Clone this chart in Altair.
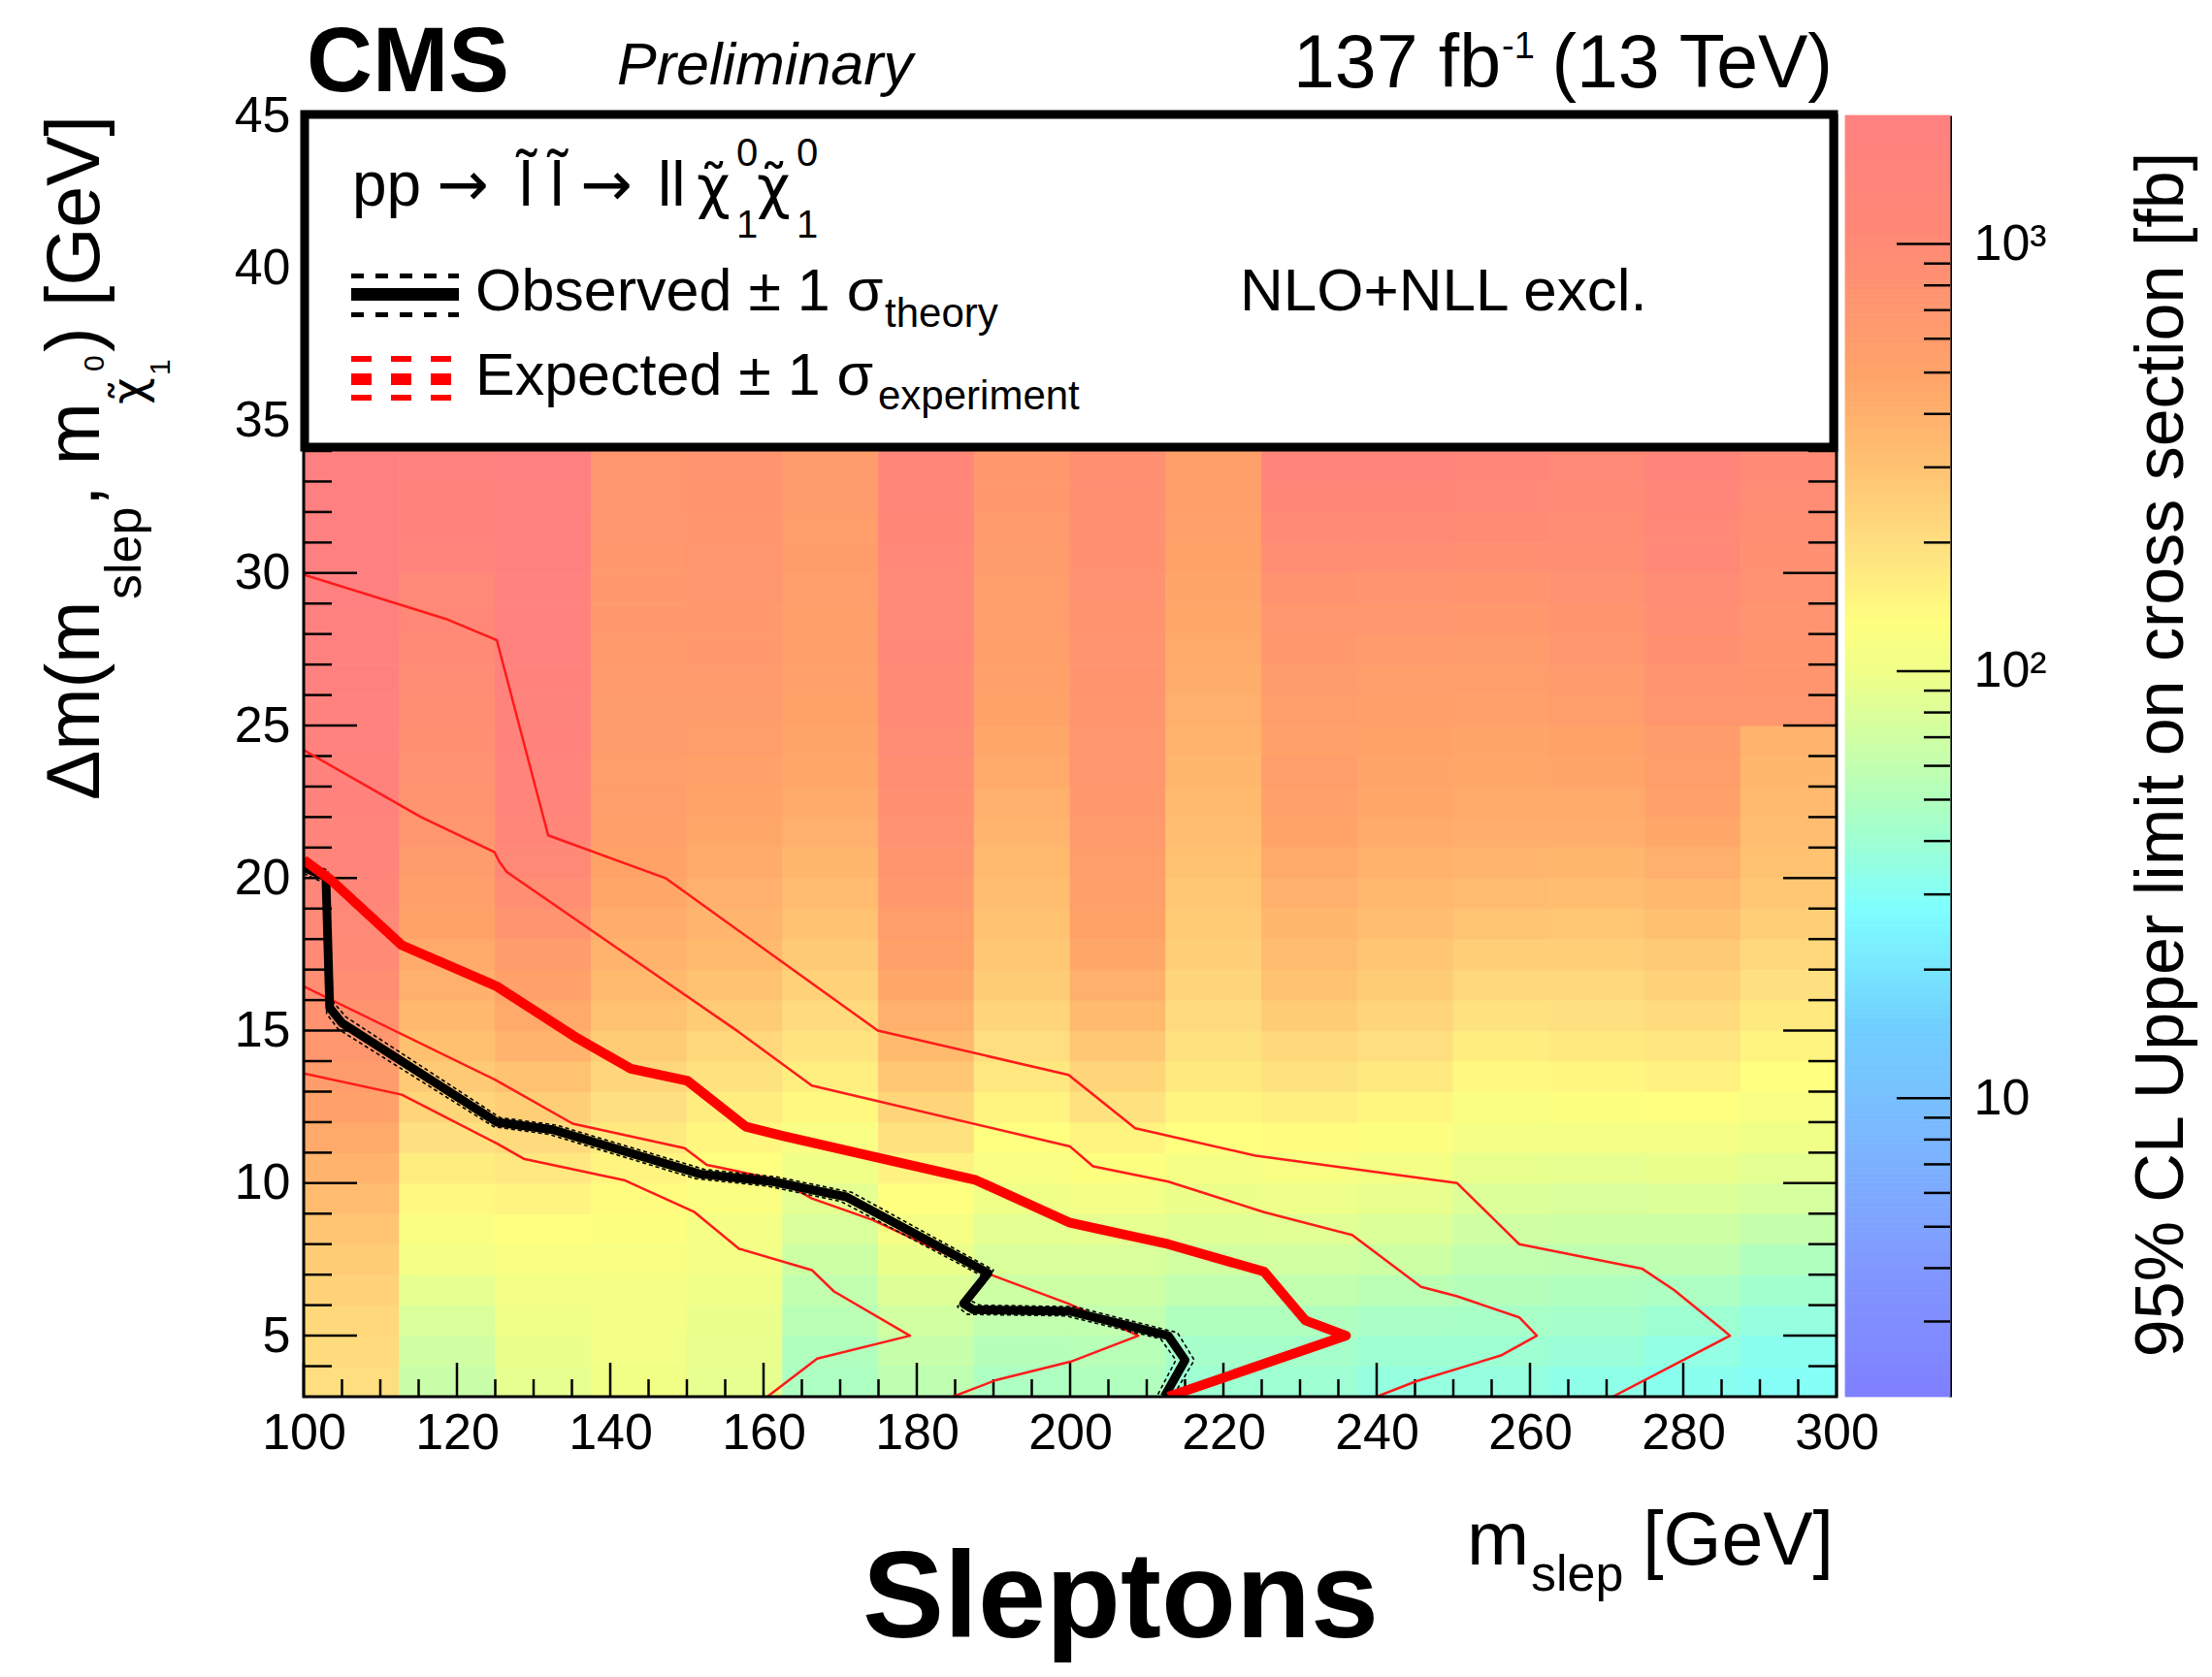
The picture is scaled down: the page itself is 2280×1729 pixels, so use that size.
import altair as alt
import pandas as pd
import numpy as np

FONT = "Liberation Sans"

# ---------------- data ----------------
# heat-map columns (edges, GeV) and rows (1 GeV from 3 to 34)
col_edges = [100, 112.5, 125, 137.5, 150, 162.5, 175, 187.5, 200,
             212.5, 225, 237.5, 250, 262.5, 275, 287.5, 300]
row_edges = list(range(3, 35))

# 95% CL upper limit [fb] per column, bottom (dm=3) to top (dm=34)
lim_100 = [200, 210, 220, 240, 260, 290, 330, 380, 450, 520, 600, 680, 780, 880, 1000, 1100,
           1250, 1400, 1500, 1600, 1700, 1750, 1800, 1850, 1900, 1900, 1950, 1950, 2000, 2000, 2000]
lim_112 = [65, 70, 78, 90, 105, 120, 140, 165, 195, 230, 270, 310, 350, 400, 450, 500,
           550, 600, 680, 750, 800, 850, 900, 950, 1000, 1050, 1100, 1500, 1600, 1700, 1800]
lim_125 = [90, 95, 100, 108, 118, 130, 150, 175, 210, 250, 300, 380, 450, 520, 600, 750,
           900, 1100, 1300, 1450, 1550, 1600, 1650, 1700, 1750, 1800, 1800, 1850, 1900, 1900, 1950]
lim_137 = [102, 105, 108, 112, 118, 125, 135, 150, 170, 195, 225, 260, 300, 340, 380, 420,
           460, 500, 540, 560, 580, 590, 600, 620, 630, 640, 650, 660, 680, 700, 700]
lim_150 = [90, 92, 95, 100, 105, 112, 120, 130, 145, 165, 190, 220, 260, 300, 340, 370,
           400, 430, 460, 490, 520, 560, 600, 620, 640, 660, 680, 700, 720, 740, 750]
lim_162 = [48, 50, 55, 60, 68, 78, 88, 100, 115, 140, 160, 185, 210, 240, 270, 300,
           330, 360, 400, 430, 460, 480, 500, 520, 540, 550, 560, 570, 580, 590, 600]
lim_175 = [58, 64, 72, 82, 95, 110, 130, 155, 190, 230, 280, 340, 400, 460, 520, 580,
           650, 720, 800, 850, 900, 950, 1000, 1000, 1050, 1100, 1100, 1150, 1200, 1250, 1300]
lim_187 = [48, 52, 60, 68, 78, 88, 100, 115, 130, 150, 175, 200, 230, 260, 280, 300,
           320, 340, 370, 400, 440, 470, 500, 520, 540, 560, 580, 600, 620, 640, 650]
lim_200 = [50, 54, 60, 68, 78, 90, 105, 125, 150, 190, 230, 280, 340, 400, 460, 500,
           540, 580, 620, 650, 680, 700, 720, 740, 760, 780, 800, 820, 830, 850, 850]
lim_212 = [40, 44, 50, 60, 72, 84, 96, 112, 130, 150, 170, 190, 210, 230, 250, 265,
           280, 300, 320, 340, 360, 380, 400, 420, 440, 460, 480, 500, 520, 540, 550]
lim_225 = [40, 44, 50, 60, 72, 85, 98, 115, 135, 160, 190, 220, 260, 300, 330, 360,
           400, 440, 490, 520, 560, 520, 560, 600, 650, 700, 780, 880, 1000, 1200, 1400]
lim_237 = [36, 40, 46, 56, 68, 80, 92, 108, 125, 145, 170, 200, 230, 260, 290, 320,
           350, 390, 430, 460, 480, 500, 540, 580, 620, 680, 760, 860, 1000, 1200, 1400]
lim_250 = [36, 40, 45, 52, 60, 70, 80, 92, 105, 120, 140, 165, 190, 220, 250, 290,
           330, 370, 410, 440, 460, 480, 520, 560, 600, 660, 740, 850, 980, 1150, 1300]
lim_262 = [34, 38, 44, 50, 58, 68, 78, 90, 105, 125, 145, 170, 195, 220, 250, 280,
           320, 360, 410, 450, 480, 500, 560, 620, 680, 740, 800, 860, 920, 1000, 1100]
lim_275 = [32, 35, 40, 48, 58, 68, 80, 95, 110, 130, 155, 180, 210, 240, 270, 310,
           350, 400, 460, 520, 560, 600, 700, 760, 820, 880, 950, 1050, 1150, 1300, 1450]
lim_287 = [30, 32, 36, 42, 50, 62, 75, 88, 100, 115, 130, 150, 170, 195, 220, 250,
           280, 300, 320, 340, 360, 380, 700, 720, 740, 760, 800, 850, 900, 950, 1000]
limit_columns = [lim_100, lim_112, lim_125, lim_137, lim_150, lim_162, lim_175, lim_187,
                 lim_200, lim_212, lim_225, lim_237, lim_250, lim_262, lim_275, lim_287]

# contours (m_slep, delta m)
obs_x = [100.0, 102.9, 103.4, 105.0, 125.2, 132.5, 151.7, 161.2, 170.8, 189.3, 186.1, 187.4, 200.0, 212.8, 215.0, 212.3]
obs_y = [20.35, 20.05, 15.75, 15.25, 12.0, 11.75, 10.3, 10.05, 9.55, 7.05, 6.05, 5.85, 5.8, 5.0, 4.2, 3.0]
obs_up_x = [100.0, 103.2, 103.8, 105.5, 125.6, 133.0, 152.3, 161.8, 171.5, 190.0, 187.0, 188.2, 200.6, 214.0, 216.2, 213.4]
obs_up_y = [20.55, 20.25, 15.95, 15.45, 12.15, 11.9, 10.45, 10.2, 9.7, 7.15, 6.15, 6.0, 5.95, 5.1, 4.2, 3.0]
obs_dn_x = [100.0, 102.6, 103.0, 104.5, 124.8, 132.0, 151.1, 160.6, 170.1, 188.6, 185.3, 186.6, 199.4, 211.8, 213.8, 211.3]
obs_dn_y = [20.15, 19.85, 15.55, 15.05, 11.85, 11.6, 10.15, 9.9, 9.4, 6.95, 5.95, 5.7, 5.65, 4.9, 4.2, 3.0]

exp_x = [100.0, 103.5, 112.8, 125.2, 135.7, 142.7, 150.1, 157.7, 162.5, 187.7, 200.0, 212.8, 225.3, 230.7, 236.0, 212.8]
exp_y = [20.6, 19.95, 17.8, 16.45, 14.75, 13.75, 13.35, 11.85, 11.55, 10.1, 8.7, 8.0, 7.1, 5.5, 5.0, 3.0]

exp_p2_x = [100.0, 118.5, 125.2, 131.9, 147.2, 174.9, 199.8, 208.5, 224.2, 250.5, 258.6, 274.6, 278.8, 286.1, 270.8]
exp_p2_y = [29.95, 28.5, 27.8, 21.4, 20.0, 15.0, 13.55, 11.8, 10.9, 10.0, 8.0, 7.2, 6.5, 5.0, 3.0]
exp_p1_x = [100.0, 115.3, 124.9, 125.5, 126.5, 156.8, 166.3, 200.0, 203.0, 212.8, 225.3, 236.8, 245.8, 250.4, 258.6, 260.9, 256.2, 245.1, 240.0]
exp_p1_y = [24.2, 22.0, 20.85, 20.55, 20.2, 14.95, 13.2, 11.2, 10.55, 10.05, 9.05, 8.3, 6.6, 6.3, 5.6, 5.0, 4.35, 3.5, 3.0]
exp_m1_x = [100.0, 124.9, 135.1, 149.7, 152.6, 162.1, 166.3, 174.2, 189.6, 199.8, 208.9, 200.1, 190.4, 184.7]
exp_m1_y = [16.45, 13.4, 11.95, 11.15, 10.6, 10.1, 9.5, 8.8, 7.0, 6.05, 5.0, 4.15, 3.55, 3.0]
exp_m2_x = [100.0, 112.8, 125.2, 128.7, 141.8, 151.0, 156.8, 166.3, 169.2, 179.1, 167.0, 160.5]
exp_m2_y = [13.6, 12.9, 11.3, 10.8, 10.1, 9.05, 7.85, 7.15, 6.45, 5.0, 4.25, 3.0]

# axis tick labels
x_tick_labels = [100, 120, 140, 160, 180, 200, 220, 240, 260, 280, 300]
y_tick_labels = [5, 10, 15, 20, 25, 30, 35, 40, 45]
cb_tick_labels = [10, 100, 1000]

# colour palette of the z axis (value -> colour)
cb_domain = [2, 4, 10, 15, 28, 41, 59, 100, 130, 195, 310, 500, 1000, 2000]
cb_colors = ["#8080ff", "#8098ff", "#78c0ff", "#70d0ff", "#80ffff", "#a0ffd0", "#c0ffb0",
             "#f0ff88", "#ffff80", "#ffe080", "#ffc070", "#ffa268", "#ff8a75", "#ff8080"]

# ---------------- tables ----------------
heat_rows = []
for ci, vals in enumerate(limit_columns):
    for ri, v in enumerate(vals):
        heat_rows.append(dict(x0=col_edges[ci], x1=col_edges[ci + 1],
                              y0=row_edges[ri], y1=row_edges[ri + 1], v=v))
heat_df = pd.DataFrame(heat_rows)


def curve_df(name, xs, ys):
    return pd.DataFrame({"curve": name, "i": list(range(len(xs))), "x": xs, "y": ys})


thin_red_df = pd.concat([curve_df("p2", exp_p2_x, exp_p2_y), curve_df("p1", exp_p1_x, exp_p1_y),
                         curve_df("m1", exp_m1_x, exp_m1_y), curve_df("m2", exp_m2_x, exp_m2_y)])
obs_band_df = pd.concat([curve_df("up", obs_up_x, obs_up_y), curve_df("dn", obs_dn_x, obs_dn_y)])
obs_df = curve_df("obs", obs_x, obs_y)
exp_df = curve_df("exp", exp_x, exp_y)

x_minor = [v for v in range(105, 300, 5) if v not in x_tick_labels]
y_minor = [v for v in range(4, 45) if v not in y_tick_labels]
cb_minor = [m * d for d in (1, 10, 100) for m in range(2, 10) if 2 < m * d < 2000 and m * d not in cb_tick_labels]

cb_edges = np.logspace(np.log10(2), np.log10(2000), 265)
cb_df = pd.DataFrame({"lo": cb_edges[:-1], "hi": cb_edges[1:],
                      "v": np.sqrt(cb_edges[:-1] * cb_edges[1:])})

one = pd.DataFrame({"k": [0]})

# ---------------- scales / axes ----------------
W, H = 1580, 1321
XS = alt.Scale(domain=[100, 300], nice=False, zero=False)
YS = alt.Scale(domain=[3, 45], nice=False, zero=False)
CS = alt.Scale(type="log", domain=cb_domain, range=cb_colors, interpolate="rgb", clamp=True)
CBS = alt.Scale(type="log", domain=[2, 2000], nice=False)

XAX = alt.Axis(values=x_tick_labels, title=None, ticks=False, tickSize=0, domain=False, grid=False,
               labelFontSize=52, labelFont=FONT, labelColor="black", labelPadding=12,
               labelFlush=False, labelOverlap=False)
YAX = alt.Axis(values=y_tick_labels, title=None, ticks=False, tickSize=0, domain=False, grid=False,
               labelFontSize=52, labelFont=FONT, labelColor="black", labelPadding=14,
               labelFlush=False, labelOverlap=False)
CBAX = alt.Axis(orient="right", offset=117, values=cb_tick_labels, title=None, ticks=False, tickSize=0,
                domain=True, domainColor="black", domainWidth=3, grid=False,
                labelFontSize=52, labelFont=FONT, labelColor="black", labelPadding=24,
                labelFlush=False, labelOverlap=False,
                labelExpr="datum.value == 1000 ? '10\u00b3' : datum.value == 100 ? '10\u00b2' : '10'")


def text_layer(s, x, y, size, align="left", angle=0, weight="normal", style="normal", font=FONT):
    props = dict(text=s, fontSize=size, font=font, align=align, baseline="alphabetic",
                 color="black", fontWeight=weight, fontStyle=style)
    if angle:
        props["angle"] = angle
    return alt.Chart(one).mark_text(**props).encode(x=alt.value(x), y=alt.value(y))


def hrule(x1, x2, y, width, color, dash=None):
    props = dict(color=color, strokeWidth=width)
    if dash:
        props["strokeDash"] = dash
    return alt.Chart(one).mark_rule(**props).encode(x=alt.value(x1), x2=alt.value(x2), y=alt.value(y))


# ---------------- main panel ----------------
heat = alt.Chart(heat_df).mark_rect(strokeWidth=0.8).encode(
    x=alt.X("x0:Q", scale=XS, axis=XAX), x2="x1:Q",
    y=alt.Y("y0:Q", scale=YS, axis=YAX), y2="y1:Q",
    color=alt.Color("v:Q", scale=CS, legend=None),
    stroke=alt.Stroke("v:Q", scale=CS, legend=None),
)


def xticks(vals, length):
    return alt.Chart(pd.DataFrame({"t": vals})).mark_rule(color="black", strokeWidth=2.5).encode(
        x=alt.X("t:Q", scale=XS, axis=XAX), y=alt.value(H), y2=alt.value(H - length))


def yticks(vals, x1, x2):
    return alt.Chart(pd.DataFrame({"t": vals})).mark_rule(color="black", strokeWidth=2.5).encode(
        y=alt.Y("t:Q", scale=YS, axis=YAX), x=alt.value(x1), x2=alt.value(x2))


def curve_layer(df, color, width, dash=None):
    props = dict(color=color, strokeWidth=width, strokeJoin="round", clip=True)
    if dash:
        props["strokeDash"] = dash
    return alt.Chart(df).mark_line(**props).encode(
        x=alt.X("x:Q", scale=XS, axis=XAX), y=alt.Y("y:Q", scale=YS, axis=YAX),
        detail="curve:N", order="i:Q")


frame = alt.Chart(one).mark_rect(fillOpacity=0, stroke="black", strokeWidth=3).encode(
    x=alt.value(0), x2=alt.value(W), y=alt.value(0), y2=alt.value(H))
legend_box = alt.Chart(one).mark_rect(fill="white", stroke="black", strokeWidth=9).encode(
    x=alt.value(1), x2=alt.value(1577), y=alt.value(-1), y2=alt.value(342))

CHI_T = "\u03c7\u0303"  # chi with tilde
L_T = "l\u0303"         # l with tilde
GREEK = "DejaVu Sans"

texts = [
    # header
    text_layer("CMS", 3, -25, 94, weight="bold"),
    text_layer("Preliminary", 323, -32, 61, style="italic"),
    text_layer("137 fb", 1020, -29, 77),
    text_layer("-1", 1235, -59, 38),
    text_layer("(13 TeV)", 1576, -29, 77, align="right"),
    # legend content
    text_layer("pp", 50, 93, 64),
    text_layer("\u2192", 137, 93, 64, font=GREEK),
    text_layer(L_T + " " + L_T, 222, 93, 64),
    text_layer("\u2192", 285, 93, 64, font=GREEK),
    text_layer("ll", 365, 93, 64),
    text_layer(CHI_T, 405, 94, 60, font=GREEK),
    text_layer("0", 446, 52, 40),
    text_layer("1", 446, 126, 40),
    text_layer(CHI_T, 467, 94, 60, font=GREEK),
    text_layer("0", 508, 52, 40),
    text_layer("1", 508, 126, 40),
    text_layer("Observed \u00b1 1 \u03c3", 177, 201, 61),
    text_layer("theory", 599, 218, 42),
    text_layer("Expected \u00b1 1 \u03c3", 177, 288, 61),
    text_layer("experiment", 592, 303, 42),
    text_layer("NLO+NLL excl.", 965, 201, 62),
    # y title (rotated)
    text_layer("\u0394m(m", -211, 706, 77, angle=270),
    text_layer("slep", -168, 499, 52, angle=270),
    text_layer(", m", -211, 403, 77, angle=270),
    text_layer(CHI_T, -164, 298, 48, angle=270, font=GREEK),
    text_layer("0", -206, 264, 30, angle=270),
    text_layer("1", -138, 268, 30, angle=270),
    text_layer(") [GeV]", -211, 244, 77, angle=270),
    # x title
    text_layer("m", 1199, 1494, 77),
    text_layer("slep", 1265, 1521, 52),
    text_layer("[GeV]", 1577, 1494, 77, align="right"),
    # colour-bar title
    text_layer("95% CL Upper limit on cross section [fb]", 1937, 659, 70, align="center", angle=270),
    # slide caption
    text_layer("Sleptons", 842, 1569, 126, align="center", weight="bold"),
]

symbols = [
    hrule(49, 160, 165.5, 5, "black", [13, 12]),
    hrule(49, 160, 184.5, 13, "black"),
    hrule(49, 160, 205.5, 5, "black", [13, 12]),
    hrule(49, 154, 251, 6, "#ff0000", [21, 20]),
    hrule(49, 154, 272, 12, "#ff0000", [21, 20]),
    hrule(49, 154, 291, 6, "#ff0000", [21, 20]),
]

main = alt.layer(
    heat,
    xticks(x_tick_labels, 35), xticks(x_minor, 18),
    yticks(y_tick_labels, 0, 55), yticks(y_minor, 0, 29),
    yticks(y_tick_labels, W - 55, W), yticks(y_minor, W - 29, W),
    curve_layer(thin_red_df, "#ff1a1a", 2.5),
    curve_layer(obs_band_df, "black", 1.6, [4, 3]),
    curve_layer(obs_df, "black", 9),
    curve_layer(exp_df, "#ff0000", 10),
    frame, legend_box, *symbols, *texts,
)

# ---------------- colour bar ----------------
cb_rects = alt.Chart(cb_df).mark_rect(strokeWidth=0.8).encode(
    x=alt.value(1589), x2=alt.value(1697),
    y=alt.Y("lo:Q", scale=CBS, axis=CBAX), y2="hi:Q",
    color=alt.Color("v:Q", scale=CS, legend=None),
    stroke=alt.Stroke("v:Q", scale=CS, legend=None),
)


def cbticks(vals, length):
    return alt.Chart(pd.DataFrame({"t": vals})).mark_rule(color="black", strokeWidth=2.5).encode(
        y=alt.Y("t:Q", scale=CBS, axis=CBAX), x=alt.value(1697 - length), x2=alt.value(1697))


cbar = alt.layer(cb_rects, cbticks(cb_tick_labels, 55), cbticks(cb_minor, 27))

chart = alt.layer(main, cbar).resolve_scale(y="independent").resolve_axis(y="independent").properties(
    width=W, height=H,
    autosize=alt.AutoSizeParams(type="none"),
    padding={"left": 305, "top": 111, "right": 376, "bottom": 279},
    background="white",
).configure_view(stroke=None).configure_axis(labelFont=FONT)

chart.save("out.html", embed_options={"renderer": "svg", "actions": False})
